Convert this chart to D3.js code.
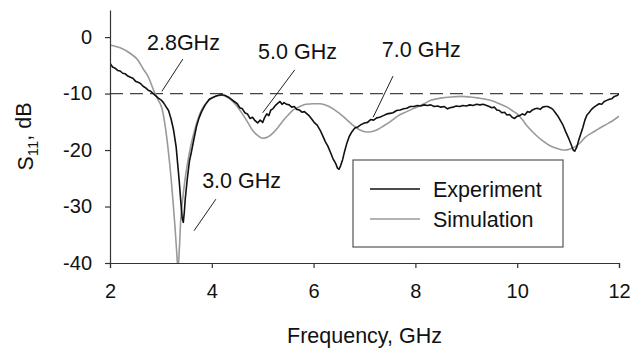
<!DOCTYPE html>
<html>
<head>
<meta charset="utf-8">
<script src="https://cdn.jsdelivr.net/npm/d3@7"></script>
<style>
  body { margin: 0; background: #fff; }
  svg { font-family: "Liberation Sans", Arial, sans-serif; }
  .axis path, .axis line { stroke: #333; stroke-width: 1.2px; }
  .axis text { font-size: 20px; fill: #111; }
</style>
</head>
<body>
<div id="chart"></div>
<script>
// measured S11 (Experiment)
var expFreq = [2.00,2.05,2.10,2.15,2.20,2.25,2.30,2.35,2.40,2.45,2.50,2.55,2.60,2.65,2.70,2.75,2.80,2.85,2.90,2.95,
  3.00,3.05,3.10,3.15,3.20,3.25,3.30,3.33,3.36,3.39,3.42,3.44,3.46,3.48,3.52,3.56,3.60,3.65,3.70,3.75,3.80,3.87,3.95,
  4.02,4.10,4.18,4.25,4.32,4.38,4.44,4.50,4.55,4.60,4.65,4.70,4.75,4.80,4.85,4.90,4.95,5.00,5.04,5.08,5.12,5.16,5.20,
  5.25,5.30,5.34,5.38,5.42,5.47,5.52,5.57,5.62,5.67,5.72,5.77,5.82,5.87,5.92,5.97,6.02,6.07,6.13,6.18,6.23,6.28,6.33,
  6.38,6.43,6.47,6.50,6.53,6.57,6.61,6.65,6.70,6.75,6.81,6.87,6.93,7.00,7.06,7.12,7.18,7.24,7.30,7.37,7.44,7.50,7.56,
  7.63,7.70,7.77,7.83,7.90,7.97,8.04,8.10,8.17,8.24,8.30,8.37,8.44,8.50,8.57,8.63,8.68,8.74,8.80,8.87,8.93,9.00,9.07,
  9.13,9.20,9.27,9.33,9.40,9.45,9.50,9.55,9.60,9.65,9.70,9.75,9.80,9.85,9.90,9.95,10.00,10.05,10.10,10.15,10.20,10.25,
  10.30,10.35,10.40,10.45,10.50,10.55,10.60,10.65,10.70,10.75,10.80,10.85,10.90,10.95,11.00,11.05,11.10,11.13,11.17,
  11.21,11.25,11.29,11.33,11.37,11.41,11.46,11.51,11.56,11.61,11.66,11.71,11.76,11.81,11.86,11.91,11.95,12.00];
var expDb = [-4.6,-5.3,-5.5,-5.9,-6.0,-6.4,-6.5,-6.9,-7.1,-7.3,-7.8,-8.0,-8.2,-8.7,-9.0,-9.4,-9.6,-10.0,-10.4,-10.8,
  -11.1,-11.6,-12.3,-13.0,-14.5,-16.5,-19.5,-22.5,-25.5,-29.0,-32.2,-32.8,-31.0,-28.5,-25.0,-22.0,-20.3,-18.0,-15.8,-14.3,-13.2,-12.0,-11.0,
  -10.7,-10.4,-10.2,-10.3,-10.6,-11.0,-11.4,-11.8,-12.5,-12.7,-13.4,-13.6,-14.4,-14.2,-14.8,-15.2,-14.7,-15.1,-14.2,-13.6,-13.9,-12.9,-12.7,
  -12.1,-11.7,-11.4,-11.9,-11.6,-11.9,-12.0,-12.4,-12.3,-12.8,-12.9,-13.3,-13.2,-13.6,-14.0,-14.6,-15.2,-15.6,-16.5,-17.5,-18.5,-19.3,-20.4,
  -21.5,-22.3,-23.2,-23.4,-22.8,-21.7,-20.2,-18.9,-17.6,-16.8,-16.1,-15.9,-15.5,-15.2,-15.1,-14.6,-14.7,-14.3,-14.2,-13.9,-13.6,-13.5,-13.4,
  -13.0,-12.9,-12.7,-12.6,-12.3,-12.3,-12.1,-12.2,-12.0,-12.1,-12.0,-12.3,-12.2,-12.4,-12.3,-12.7,-12.5,-12.4,-12.2,-12.3,-12.1,-12.2,-12.0,
  -12.1,-11.9,-12.0,-11.9,-12.1,-12.3,-12.5,-12.4,-12.9,-13.0,-13.4,-13.3,-13.8,-13.7,-14.2,-14.4,-14.0,-13.9,-13.6,-13.8,-13.2,-13.3,
  -12.9,-12.7,-12.6,-12.8,-12.4,-12.3,-12.3,-12.5,-12.8,-13.4,-14.0,-14.8,-15.6,-16.7,-17.7,-18.8,-20.0,-20.2,-19.5,
  -18.2,-17.1,-16.0,-14.7,-13.8,-13.4,-12.8,-12.4,-12.1,-11.8,-11.9,-11.4,-11.2,-11.0,-10.9,-10.5,-10.4,-10.1];

// simulated S11
var simFreq = [2.0,2.2,2.4,2.55,2.65,2.75,2.87,2.95,3.02,3.08,3.15,3.20,3.24,3.28,3.31,3.335,3.36,3.39,3.43,3.47,3.52,
  3.57,3.62,3.67,3.74,3.80,3.90,4.00,4.10,4.20,4.30,4.40,4.50,4.60,4.70,4.80,4.90,5.00,5.10,5.20,5.30,5.40,5.50,5.60,
  5.73,5.85,6.00,6.13,6.26,6.40,6.52,6.65,6.77,6.90,7.05,7.15,7.25,7.38,7.50,7.65,7.83,8.00,8.15,8.30,8.50,8.70,8.90,
  9.07,9.25,9.47,9.65,9.80,9.90,10.00,10.10,10.20,10.35,10.49,10.62,10.74,10.85,10.94,11.04,11.14,11.24,11.33,11.46,
  11.59,11.72,11.86,12.00];
var simDb = [-1.4,-1.9,-2.9,-4.1,-5.6,-7.0,-9.7,-11.2,-12.6,-15.5,-20.5,-25.0,-29.3,-34.0,-38.0,-41.0,-38.0,-32.3,-28.5,-25.5,-22.5,
  -20.0,-18.0,-16.2,-14.2,-12.9,-11.6,-10.8,-10.4,-10.3,-10.6,-11.3,-12.3,-13.6,-15.0,-16.5,-17.4,-17.9,-17.7,-17.0,-16.0,-14.8,-13.8,-12.9,
  -12.3,-11.9,-11.8,-11.8,-12.1,-12.8,-13.6,-14.6,-15.6,-16.4,-16.8,-16.7,-16.4,-15.7,-15.0,-14.0,-13.2,-12.5,-11.9,-11.2,-10.8,-10.6,-10.5,
  -10.6,-10.8,-11.2,-11.8,-12.4,-13.0,-13.6,-14.6,-15.8,-17.2,-18.3,-19.1,-19.6,-19.9,-20.0,-19.8,-19.4,-18.7,-17.8,-17.0,
  -16.3,-15.6,-14.9,-14.0];

var xTicks = [2, 4, 6, 8, 10, 12];
var yTicks = [-40, -30, -20, -10, 0];
var refLevel = -10;

// annotations: label, text anchor (GHz, dB), leader line from/to (GHz, dB)
var noteText = ["2.8GHz", "5.0 GHz", "7.0 GHz", "3.0 GHz"];
var noteAt   = [[2.727, -2.3], [4.91, -3.9], [7.34, -3.5], [3.81, -26.7]];
var noteFrom = [[3.43, -3.9], [5.63, -5.8], [7.56, -6.9], [4.08, -28.7]];
var noteTo   = [[3.02, -9.6], [5.00, -13.4], [7.17, -14.2], [3.65, -34.3]];

var seriesNames = ["Experiment", "Simulation"];
var seriesColors = ["#111", "#9a9a9a"];

var margin = {top: 10, right: 11, bottom: 85, left: 110},
    width  = 630 - margin.left - margin.right,
    height = 348 - margin.top  - margin.bottom;

var x = d3.scaleLinear()
    .domain([2, 12])
    .range([0, width]);

var y = d3.scaleLinear()
    .domain([-40, 4.8])
    .range([height, 0]);

var svg = d3.select("#chart").append("svg")
    .attr("width", 630)
    .attr("height", 348)
  .append("g")
    .attr("transform", "translate(" + margin.left + "," + margin.top + ")");

svg.append("clipPath")
    .attr("id", "plot-clip")
  .append("rect")
    .attr("width", width)
    .attr("height", height);

// reference line at -10 dB
svg.append("line")
    .attr("x1", x(2))
    .attr("x2", x(12))
    .attr("y1", y(refLevel))
    .attr("y2", y(refLevel))
    .style("stroke", "#444")
    .style("stroke-width", "1.3px")
    .style("stroke-dasharray", "13,7");

var line = d3.line()
    .x(function (d) { return x(d[0]); })
    .y(function (d) { return y(d[1]); });

var simLine = d3.line()
    .curve(d3.curveMonotoneX)
    .x(function (d) { return x(d[0]); })
    .y(function (d) { return y(d[1]); });

var simData = simFreq.map(function (f, i) { return [f, simDb[i]]; });
var expData = expFreq.map(function (f, i) { return [f, expDb[i]]; });

svg.append("path")
    .attr("clip-path", "url(#plot-clip)")
    .attr("d", simLine(simData))
    .style("fill", "none")
    .style("stroke", seriesColors[1])
    .style("stroke-width", "1.6px");

svg.append("path")
    .attr("clip-path", "url(#plot-clip)")
    .attr("d", line(expData))
    .style("fill", "none")
    .style("stroke", seriesColors[0])
    .style("stroke-width", "1.6px")
    .style("stroke-linejoin", "round");

// axes
svg.append("g")
    .attr("class", "x axis")
    .attr("transform", "translate(0," + height + ")")
    .call(d3.axisBottom(x).tickValues(xTicks).tickSize(5).tickSizeOuter(5).tickPadding(16))
    .selectAll("text").attr("dy", "0.71em");

// plain hyphen for negatives, as in the original figure
svg.append("g")
    .attr("class", "y axis")
    .call(d3.axisLeft(y).tickValues(yTicks).tickSize(5).tickSizeOuter(0).tickPadding(13)
      .tickFormat(function (d) { return String(d); }));

// axis labels
svg.append("text")
    .attr("x", width / 2)
    .attr("y", 333)
    .attr("text-anchor", "middle")
    .style("font-size", "21.5px")
    .style("fill", "#111")
    .text("Frequency, GHz");

var ylab = svg.append("text")
    .attr("transform", "translate(" + (-77) + "," + (height / 2) + ") rotate(-90)")
    .attr("text-anchor", "middle")
    .style("font-size", "21.5px")
    .style("fill", "#111");
ylab.append("tspan").text("S");
ylab.append("tspan").attr("dy", "0.3em").style("font-size", "15px").text("11");
ylab.append("tspan").attr("dy", "-0.3em").text(", dB");

// annotations
noteText.forEach(function (t, i) {
  svg.append("line")
      .attr("x1", x(noteFrom[i][0]))
      .attr("y1", y(noteFrom[i][1]))
      .attr("x2", x(noteTo[i][0]))
      .attr("y2", y(noteTo[i][1]))
      .style("stroke", "#222")
      .style("stroke-width", "1px");
  svg.append("text")
      .attr("x", x(noteAt[i][0]))
      .attr("y", y(noteAt[i][1]))
      .style("font-size", "21.5px")
      .style("fill", "#111")
      .text(t);
});

// legend
var legend = svg.append("g")
    .attr("transform", "translate(" + (353 - margin.left) + "," + (160 - margin.top) + ")");

legend.append("rect")
    .attr("width", 210)
    .attr("height", 87)
    .style("fill", "#fff")
    .style("stroke", "#555")
    .style("stroke-width", "1.2px");

seriesNames.forEach(function (n, i) {
  legend.append("line")
      .attr("x1", 17).attr("x2", 67)
      .attr("y1", 29 + i * 30).attr("y2", 29 + i * 30)
      .style("stroke", seriesColors[i])
      .style("stroke-width", "1.6px");
  legend.append("text")
      .attr("x", 80)
      .attr("y", 37 + i * 30)
      .style("font-size", "21.5px")
      .style("fill", "#111")
      .text(n);
});
</script>
</body>
</html>
